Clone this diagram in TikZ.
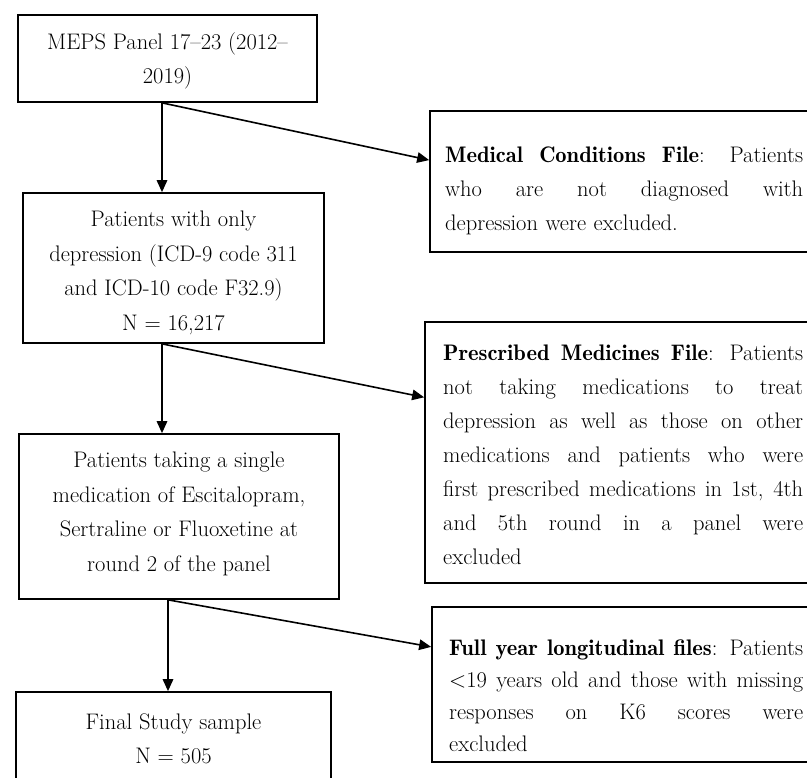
\documentclass[tikz,border=0pt]{standalone}
\usetikzlibrary{arrows.meta,calc}
\newcommand{\bd}[1]{{\fontseries{b}\selectfont #1}}
\newcommand{\jl}[2]{\makebox[#1][s]{\spaceskip=0pt\xspaceskip=0pt\relax #2}}
\begin{document}
\begin{tikzpicture}[x=1pt,y=-1pt,
  box/.style={draw, line width=1.7pt, rectangle, inner sep=0pt},
  txt/.style={font=\fontsize{22.5}{34.5}\selectfont, align=center, inner sep=0pt},
  rtxt/.style={font=\fontsize{22.5}{34}\selectfont, align=left, inner sep=0pt, anchor=west},
  arr/.style={line width=1.6pt, -{Triangle[length=12pt,width=10.5pt]}}]
\clip (0,0) rectangle (807,778);
\fill[white] (0,0) rectangle (807,778);
% left column boxes
\node[box, minimum width=299pt, minimum height=87pt] (b1) at (167.5,58.5) {};
\node[box, minimum width=301pt, minimum height=150pt] (b2) at (173.5,268) {};
\node[box, minimum width=320pt, minimum height=165pt] (b3) at (179,516.5) {};
\node[box, minimum width=315pt, minimum height=95pt] (b4) at (173.5,739.5) {};
% right column boxes
\node[box, minimum width=385pt, minimum height=141pt] (r1) at (622.5,181.5) {};
\node[box, minimum width=390pt, minimum height=261pt] (r2) at (620,452.5) {};
\node[box, minimum width=383pt, minimum height=155pt] (r3) at (623.5,684.5) {};
% left texts
\node[txt] (t1) at (167.5,61) {MEPS Panel 17--23 (2012--\\2019)};
\node[txt] (t2) at (173.5,273) {Patients with only\\depression (ICD-9 code 311\\and ICD-10 code F32.9)\\N = 16,217};
\node[txt] (t3) at (179,514) {Patients taking a single\\medication of Escitalopram,\\Sertraline or Fluoxetine at\\round 2 of the panel};
\node[txt] (t4) at (173.5,739) {Final Study sample\\N = 505};
% right texts
\node[rtxt, text width=358pt] (t5) at (445,191) {\jl{358pt}{\bd{Medical Conditions File}: Patients}\\\jl{358pt}{who are not diagnosed with}\\depression were excluded.};
\node[rtxt, text width=360pt] (t6) at (443,455) {\jl{360pt}{\bd{Prescribed Medicines File}: Patients}\\\jl{360pt}{not taking medications to treat}\\\jl{360pt}{depression as well as those on other}\\\jl{360pt}{medications and patients who were}\\\jl{360pt}{first prescribed medications in 1st, 4th}\\\jl{360pt}{and 5th round in a panel were}\\excluded};
\node[rtxt, text width=354pt, font=\fontsize{22.5}{32}\selectfont] (t7) at (449,696) {\jl{354pt}{\bd{Full year longitudinal files}: Patients}\\\jl{354pt}{\textless19 years old and those with missing}\\\jl{354pt}{responses on K6 scores were}\\excluded};
% connectors
\coordinate (xa) at (162,0);
\coordinate (xb) at (168,0);
\draw[arr] (b1.south -| xa) -- (b2.north -| xa);
\draw[arr] (b1.south -| xa) -- ($(r1.north west)!0.35!(r1.south west)$);
\draw[arr] (b2.south -| xa) -- (b3.north -| xa);
\draw[arr] (b2.south -| xa) -- ($(r2.north west)!0.29!(r2.south west)$);
\draw[arr] (b3.south -| xb) -- (b4.north -| xb);
\draw[arr] (b3.south -| xb) -- ($(r3.north west)!0.26!(r3.south west)$);
\end{tikzpicture}
\end{document}
